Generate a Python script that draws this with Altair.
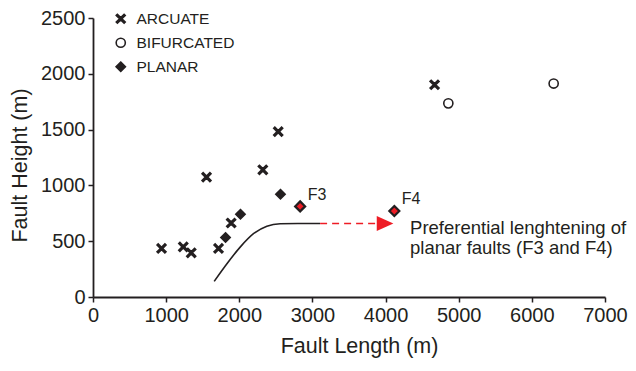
import altair as alt
import pandas as pd

# ---- data ----
fault_types = ["ARCUATE", "BIFURCATED", "PLANAR"]

arcuate_x = [937, 1234, 1343, 1552, 1716, 1889, 2322, 2532, 4670]
arcuate_y = [435, 449, 396, 1074, 435, 663, 1140, 1482, 1902]

bifurcated_x = [4858, 6298]
bifurcated_y = [1735, 1913]

planar_x = [1812, 2016, 2563]
planar_y = [533, 741, 920]

highlight_x = [2832, 4120]
highlight_y = [812, 771]
highlight_labels = ["F3", "F4"]
label_x = [2937, 4221]
label_y = [917, 875]

curve_x = [1657, 1831, 2012, 2194, 2377, 2559, 2800, 3105]
curve_y = [140, 298, 447, 567, 634, 656, 658, 658]

arrow_x = [3105, 3880]
arrow_y = [658, 658]
arrowhead_x = [3993]
arrowhead_y = [658]

note_lines = ["Preferential lenghtening of", "planar faults (F3 and F4)"]
note_x = [4335, 4335]
note_y = [619, 435]

x_ticks = [0, 1000, 2000, 3000, 4000, 5000, 6000, 7000]
y_ticks = [0, 500, 1000, 1500, 2000, 2500]

# ---- styling ----
FONT = "Liberation Sans"
INK = "#231f20"
RED = "#ee1c25"
X_PATH = ("M-1,-0.75L-0.75,-1L0,-0.25L0.75,-1L1,-0.75L0.25,0L1,0.75L0.75,1"
          "L0,0.25L-0.75,1L-1,0.75L-0.25,0Z")
DIAMOND = "M0,-1L1,0L0,1L-1,0Z"
TRI = "M-1,-0.9L1,0L-1,0.9Z"

pts = pd.DataFrame({
    "x": arcuate_x + bifurcated_x + planar_x,
    "y": arcuate_y + bifurcated_y + planar_y,
    "type": ["ARCUATE"] * len(arcuate_x) + ["BIFURCATED"] * len(bifurcated_x)
            + ["PLANAR"] * len(planar_x),
})
hl = pd.DataFrame({"x": highlight_x, "y": highlight_y})
lbl = pd.DataFrame({"x": label_x, "y": label_y, "t": highlight_labels})
curve = pd.DataFrame({"x": curve_x, "y": curve_y})
arrow = pd.DataFrame({"x": arrow_x, "y": arrow_y})
head = pd.DataFrame({"x": arrowhead_x, "y": arrowhead_y})
note = pd.DataFrame({"x": note_x, "y": note_y, "t": note_lines})

xs = alt.Scale(domain=[0, 7000], nice=False)
ys = alt.Scale(domain=[0, 2500], nice=False)

X = alt.X("x:Q", scale=xs, title="Fault Length (m)",
          axis=alt.Axis(values=x_ticks, format="d", titleX=266, labelFlush=False))
Y = alt.Y("y:Q", scale=ys, title="Fault Height (m)",
          axis=alt.Axis(values=y_ticks, format="d", titleY=147, labelFlush=False))

legend = alt.Legend(title=None, orient="none", legendX=20, legendY=-7,
                    labelFont=FONT, labelFontSize=15.5, labelColor=INK,
                    rowPadding=6, labelOffset=8, padding=0,
                    symbolStrokeWidth=1.6)

points = alt.Chart(pts).mark_point(strokeWidth=1.6, opacity=1).encode(
    x=X, y=Y,
    shape=alt.Shape("type:N", scale=alt.Scale(domain=fault_types,
                    range=[X_PATH, "circle", DIAMOND]), legend=legend),
    fill=alt.Fill("type:N", scale=alt.Scale(domain=fault_types,
                  range=[INK, "white", INK]), legend=legend),
    stroke=alt.Stroke("type:N", scale=alt.Scale(domain=fault_types,
                      range=[INK, INK, INK]), legend=legend),
    size=alt.Size("type:N", scale=alt.Scale(domain=fault_types,
                  range=[80, 87, 115]), legend=legend),
)

highlight = alt.Chart(hl).mark_point(shape=DIAMOND, filled=True, fill=RED,
                                     stroke=INK, strokeWidth=2.2, size=100,
                                     opacity=1).encode(x=X, y=Y)

labels = alt.Chart(lbl).mark_text(align="left", baseline="middle", font=FONT,
                                  fontSize=16, color=INK).encode(x=X, y=Y, text="t:N")

curve_line = alt.Chart(curve).mark_line(color=INK, strokeWidth=1.6,
                                        interpolate="monotone").encode(x=X, y=Y)

arrow_line = alt.Chart(arrow).mark_line(color=RED, strokeWidth=1.5,
                                        strokeDash=[7, 5]).encode(x=X, y=Y)

arrow_head = alt.Chart(head).mark_point(shape=TRI, filled=True, fill=RED,
                                        strokeWidth=0, size=276,
                                        opacity=1).encode(x=X, y=Y)

note_text = alt.Chart(note).mark_text(align="left", baseline="middle", font=FONT,
                                      fontSize=18.5, color=INK).encode(x=X, y=Y, text="t:N")

chart = alt.layer(curve_line, arrow_line, arrow_head, points, highlight,
                  labels, note_text).properties(
    width=512, height=279,
    autosize=alt.AutoSizeParams(type="none"),
    padding={"left": 85, "top": 10, "right": 23, "bottom": 66},
).configure_view(stroke=None).configure_axis(
    grid=False, domainColor=INK, domainWidth=1.8, tickColor=INK, tickWidth=1.5,
    tickSize=5, labelFont=FONT, labelFontSize=20, labelColor=INK,
    titleFont=FONT, titleFontSize=21.5, titleColor=INK, titleFontWeight="normal",
    labelPadding=3,
).configure_axisX(titlePadding=10).configure_axisY(titlePadding=9)

chart.save("out.html", embed_options={"renderer": "svg", "actions": False})
